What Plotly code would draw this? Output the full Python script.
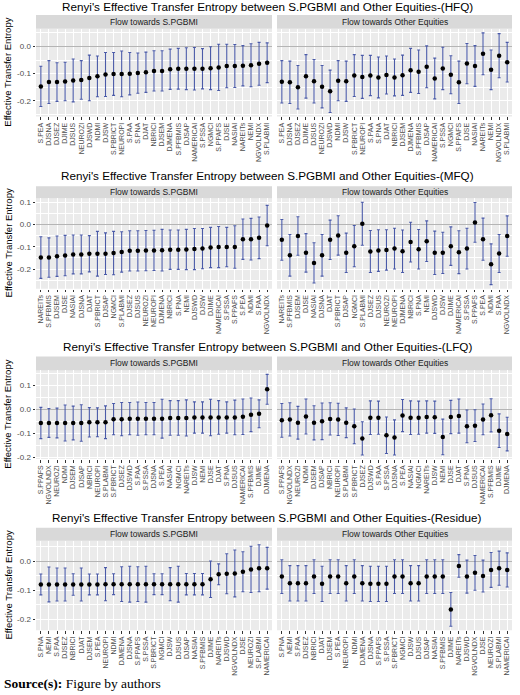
import plotly.graph_objects as go

# ---- data (value, half-width of the error bar) ----
hfq_labels = ["S.PEA", "DJSNA", "DJSEZ", "DJIME", "DJSUS", "NEUROZI", "DJSWD", "NDMI", "DJSW",
              "S.PBRICT", "NEUROPI", "S.PAA", "S.PNA", "DJAT", "NBRICI", "DJSEM", "DJMENA",
              "S.PFBMIS", "DJSAP", "NAMERICAI", "S.PSSA", "NGMCI", "S.PPAFS", "DJSE", "NASIAI",
              "NAREITs", "NEMI", "NGVOLNDX", "S.PLABMI"]
hfq_to_pgbmi = [-0.147, -0.131, -0.131, -0.129, -0.125, -0.123, -0.116, -0.110, -0.103, -0.101,
                -0.101, -0.100, -0.098, -0.095, -0.090, -0.090, -0.084, -0.082, -0.082, -0.082,
                -0.082, -0.080, -0.077, -0.072, -0.072, -0.071, -0.069, -0.064, -0.060]
hfq_to_pgbmi_err = [0.074, 0.079, 0.071, 0.071, 0.079, 0.071, 0.084, 0.075, 0.081, 0.079,
                    0.084, 0.078, 0.074, 0.074, 0.074, 0.074, 0.074, 0.075, 0.077, 0.078,
                    0.074, 0.079, 0.085, 0.080, 0.079, 0.074, 0.079, 0.079, 0.073]
hfq_to_other = [-0.130, -0.132, -0.150, -0.110, -0.128, -0.148, -0.165, -0.126, -0.128, -0.107,
                -0.112, -0.107, -0.114, -0.105, -0.114, -0.106, -0.088, -0.093, -0.075, -0.118,
                -0.081, -0.104, -0.132, -0.063, -0.072, -0.027, -0.086, -0.034, -0.058]
hfq_to_other_err = [0.078, 0.078, 0.080, 0.080, 0.080, 0.078, 0.078, 0.074, 0.074, 0.077,
                    0.079, 0.074, 0.075, 0.070, 0.068, 0.074, 0.081, 0.080, 0.077, 0.075,
                    0.078, 0.070, 0.078, 0.074, 0.075, 0.077, 0.073, 0.081, 0.073]

mfq_labels = ["NAREITs", "S.PFBMIS", "DJSEM", "DJSE", "NASIAI", "DJSNA", "DJAT", "S.PBRICT",
              "DJSAP", "NGMCI", "S.PLABMI", "DJSEZ", "DJSUS", "NEUROZI", "NEUROPI", "DJMENA",
              "NBRICI", "S.PNA", "NEMI", "DJSWD", "DJSW", "DJIME", "NAMERICAI", "S.PSSA",
              "S.PPAFS", "S.PEA", "NDMI", "S.PAA", "NGVOLNDX"]
mfq_to_pgbmi = [-0.148, -0.148, -0.142, -0.139, -0.134, -0.134, -0.131, -0.131, -0.131, -0.128,
                -0.123, -0.118, -0.118, -0.117, -0.116, -0.115, -0.113, -0.113, -0.112, -0.110,
                -0.108, -0.103, -0.101, -0.101, -0.101, -0.066, -0.066, -0.060, -0.005]
mfq_to_pgbmi_err = [0.093, 0.088, 0.090, 0.090, 0.087, 0.087, 0.081, 0.100, 0.093, 0.097,
                    0.090, 0.090, 0.090, 0.090, 0.090, 0.093, 0.088, 0.088, 0.090, 0.092,
                    0.090, 0.090, 0.092, 0.088, 0.095, 0.090, 0.093, 0.093, 0.090]
mfq_to_other = [-0.069, -0.138, -0.052, -0.127, -0.172, -0.138, -0.069, -0.049, -0.127, -0.097,
                0.003, -0.121, -0.117, -0.114, -0.108, -0.120, -0.079, -0.111, -0.075, -0.127,
                -0.127, -0.097, -0.124, -0.108, 0.009, -0.066, -0.178, -0.130, -0.052]
mfq_to_other_err = [0.091, 0.093, 0.086, 0.086, 0.090, 0.093, 0.088, 0.088, 0.088, 0.092,
                    0.096, 0.094, 0.093, 0.090, 0.091, 0.095, 0.089, 0.088, 0.091, 0.097,
                    0.092, 0.086, 0.096, 0.091, 0.089, 0.094, 0.091, 0.085, 0.090]

lfq_labels = ["S.PPAFS", "NGVOLNDX", "NEUROZI", "NDMI", "DJSEM", "DJSAP", "NBRICI", "NEUROPI",
              "S.PLABMI", "S.PBRICT", "DJSEZ", "DJSWD", "S.PAA", "S.PSSA", "DJSNA", "S.PEA",
              "NASIAI", "NGMCI", "NAREITs", "DJSW", "NEMI", "DJSE", "DJAT", "S.PNA", "DJSUS",
              "NAMERICAI", "S.PFBMIS", "DJIME", "DJMENA"]
lfq_to_pgbmi = [-0.056, -0.056, -0.056, -0.056, -0.056, -0.056, -0.053, -0.053, -0.053, -0.040,
                -0.040, -0.038, -0.038, -0.038, -0.038, -0.038, -0.035, -0.035, -0.035, -0.033,
                -0.033, -0.033, -0.033, -0.033, -0.033, -0.030, -0.022, -0.018, 0.084]
lfq_to_pgbmi_err = [0.065, 0.060, 0.062, 0.075, 0.070, 0.076, 0.061, 0.060, 0.068, 0.065,
                    0.069, 0.067, 0.069, 0.067, 0.067, 0.081, 0.072, 0.072, 0.075, 0.065,
                    0.065, 0.076, 0.070, 0.065, 0.072, 0.074, 0.070, 0.058, 0.062]
lfq_to_other = [-0.045, -0.041, -0.055, -0.029, -0.055, -0.049, -0.039, -0.041, -0.055, -0.070,
                -0.120, -0.034, -0.034, -0.107, -0.116, -0.025, -0.034, -0.034, -0.031, -0.032,
                -0.114, -0.031, -0.027, -0.070, -0.067, -0.041, -0.024, -0.088, -0.102]
lfq_to_other_err = [0.070, 0.069, 0.068, 0.073, 0.071, 0.076, 0.067, 0.067, 0.062, 0.072,
                    0.069, 0.070, 0.069, 0.076, 0.073, 0.067, 0.070, 0.069, 0.067, 0.067,
                    0.074, 0.069, 0.071, 0.068, 0.066, 0.064, 0.069, 0.070, 0.070]

res_labels = ["S.PNA", "NEMI", "S.PAA", "DJSEZ", "NBRICI", "DJAT", "DJSEM", "S.PEA", "NEUROPI",
              "NDMI", "DJMENA", "DJSNA", "S.PPAFS", "S.PSSA", "S.PBRICT", "NGMCI", "DJSW",
              "DJSUS", "DJSAP", "NASIAI", "S.PFBMIS", "DJIME", "NAREITs", "DJSWD", "NGVOLNDX",
              "DJSE", "NEUROZI", "S.PLABMI", "NAMERICAI"]
res_to_pgbmi = [-0.080, -0.080, -0.080, -0.080, -0.080, -0.080, -0.080, -0.080, -0.079, -0.079,
                -0.079, -0.079, -0.079, -0.079, -0.079, -0.079, -0.079, -0.079, -0.079, -0.079,
                -0.079, -0.062, -0.045, -0.043, -0.042, -0.036, -0.028, -0.024, -0.024]
res_to_pgbmi_err = [0.036, 0.060, 0.057, 0.057, 0.037, 0.057, 0.036, 0.036, 0.057, 0.036,
                    0.060, 0.062, 0.060, 0.062, 0.036, 0.036, 0.057, 0.062, 0.037, 0.037,
                    0.037, 0.063, 0.036, 0.069, 0.081, 0.069, 0.080, 0.081, 0.072]
res_to_other = [-0.053, -0.076, -0.076, -0.076, -0.053, -0.078, -0.053, -0.053, -0.076, -0.053,
                -0.076, -0.078, -0.078, -0.078, -0.053, -0.053, -0.076, -0.076, -0.053, -0.053,
                -0.053, -0.166, -0.016, -0.053, -0.040, -0.051, -0.030, -0.024, -0.030]
res_to_other_err = [0.058, 0.061, 0.061, 0.061, 0.058, 0.061, 0.058, 0.058, 0.061, 0.058,
                    0.061, 0.061, 0.061, 0.061, 0.058, 0.058, 0.061, 0.061, 0.058, 0.058,
                    0.058, 0.058, 0.039, 0.057, 0.060, 0.055, 0.060, 0.059, 0.059]

row_tags = ["HFQ", "MFQ", "LFQ", "Residue"]
facet_names = ["Flow towards S.PGBMI", "Flow towards Other Equities"]

rows = [
    (hfq_labels, hfq_to_pgbmi, hfq_to_pgbmi_err, hfq_to_other, hfq_to_other_err, [-0.2, -0.1, 0.0]),
    (mfq_labels, mfq_to_pgbmi, mfq_to_pgbmi_err, mfq_to_other, mfq_to_other_err, [-0.2, -0.1, 0.0, 0.1]),
    (lfq_labels, lfq_to_pgbmi, lfq_to_pgbmi_err, lfq_to_other, lfq_to_other_err, [-0.2, -0.1, 0.0, 0.1]),
    (res_labels, res_to_pgbmi, res_to_pgbmi_err, res_to_other, res_to_other_err, [-0.2, -0.1, 0.0]),
]

# ---- layout geometry (pixels in a 520x695 page) ----
W, H = 520, 695
col_px = [(36, 272), (277, 512)]
# (title y, strip top, panel top, panel bottom)
row_px = [(6.5, 15, 29, 117), (176, 187, 199, 290), (348.5, 358, 372, 461), (520, 530, 543, 633)]

FONT = "Liberation Sans, Arial, sans-serif"
BAR_COL = "#4A5AA8"

fig = go.Figure()
shapes = []
annotations = []

def px_x(v):
    return v / W

def px_y(v):
    return 1 - v / H

for r, (labels, v1, e1, v2, e2, yticks) in enumerate(rows):
    title_y, strip_top, pan_top, pan_bot = row_px[r]
    lo = min(min(a - b for a, b in zip(v1, e1)), min(a - b for a, b in zip(v2, e2)))
    hi = max(max(a + b for a, b in zip(v1, e1)), max(a + b for a, b in zip(v2, e2)))
    pad = (hi - lo) * 0.05
    yrange = [lo - pad, hi + pad]
    pos = list(range(len(labels)))

    for c, (vals, errs) in enumerate([(v1, e1), (v2, e2)]):
        idx = 2 * r + c + 1
        sfx = "" if idx == 1 else str(idx)
        fig.add_trace(go.Scatter(
            x=pos, y=vals, mode="markers", text=labels,
            marker=dict(color="black", size=4.5),
            error_y=dict(type="data", array=errs, visible=True,
                         color=BAR_COL, thickness=1.1, width=1.5),
            xaxis="x" + sfx, yaxis="y" + sfx, showlegend=False,
        ))
        x0, x1 = col_px[c]
        fig.update_layout(**{
            "xaxis" + sfx: dict(
                domain=[px_x(x0), px_x(x1)], anchor="y" + sfx,
                range=[-0.6, len(labels) - 0.4],
                tickmode="array", tickvals=pos, ticktext=labels,
                tickangle=-90, tickfont=dict(family=FONT, size=7, color="#4D4D4D"),
                ticks="outside", ticklen=2.5, tickwidth=0.8, tickcolor="#333333",
                showgrid=True, gridcolor="white", gridwidth=1,
                showline=False, zeroline=False, fixedrange=True,
            ),
            "yaxis" + sfx: dict(
                domain=[px_y(pan_bot), px_y(pan_top)], anchor="x" + sfx,
                range=yrange, tickmode="array", tickvals=yticks,
                ticktext=["%.1f" % t for t in yticks],
                showticklabels=(c == 0),
                ticks="outside" if c == 0 else "", ticklen=2.5, tickwidth=0.8,
                tickcolor="#333333",
                tickfont=dict(family=FONT, size=8, color="#4D4D4D"),
                showgrid=True, gridcolor="white", gridwidth=1,
                minor=dict(tickmode="linear", tick0=0.05, dtick=0.1, showgrid=True,
                           gridcolor="white", gridwidth=0.5, ticks=""),
                zeroline=True, zerolinecolor="#B5B5B5", zerolinewidth=1,
                showline=False, fixedrange=True,
            ),
        })
        # facet strip
        shapes.append(dict(type="rect", xref="paper", yref="paper",
                           x0=px_x(x0), x1=px_x(x1), y0=px_y(pan_top), y1=px_y(strip_top),
                           fillcolor="#D9D9D9", line=dict(width=0), layer="below"))
        annotations.append(dict(text=facet_names[c], xref="paper", yref="paper",
                                x=px_x((x0 + x1) / 2), y=px_y((strip_top + pan_top) / 2),
                                xanchor="center", yanchor="middle", showarrow=False,
                                font=dict(family=FONT, size=8.5, color="#1A1A1A")))

    annotations.append(dict(
        text="Renyi's Effective Transfer Entropy between S.PGBMI and Other Equities-(%s)" % row_tags[r],
        xref="paper", yref="paper", x=px_x(267), y=px_y(title_y),
        xanchor="center", yanchor="middle", showarrow=False,
        font=dict(family=FONT, size=11.7, color="black")))
    annotations.append(dict(
        text="Effective Transfer Entropy", xref="paper", yref="paper",
        x=px_x(8), y=px_y((pan_top + pan_bot) / 2), textangle=-90,
        xanchor="center", yanchor="middle", showarrow=False,
        font=dict(family=FONT, size=9.5, color="black")))

annotations.append(dict(
    text="<b>Source(s):</b> Figure by authors", xref="paper", yref="paper",
    x=px_x(2), y=px_y(686), xanchor="left", yanchor="middle", showarrow=False,
    font=dict(family="Liberation Serif, Times New Roman, serif", size=13.5, color="black")))

fig.update_layout(
    width=W, height=H, margin=dict(l=0, r=0, t=0, b=0),
    paper_bgcolor="white", plot_bgcolor="#EBEBEB",
    shapes=shapes, annotations=annotations,
    font=dict(family=FONT),
)

# drop the browser's default 8px body margin so the 520x695 figure fills the window
fig.write_html("out.html", config={"displayModeBar": False},
               post_script="document.body.style.margin='0';document.body.style.overflow='hidden';")
